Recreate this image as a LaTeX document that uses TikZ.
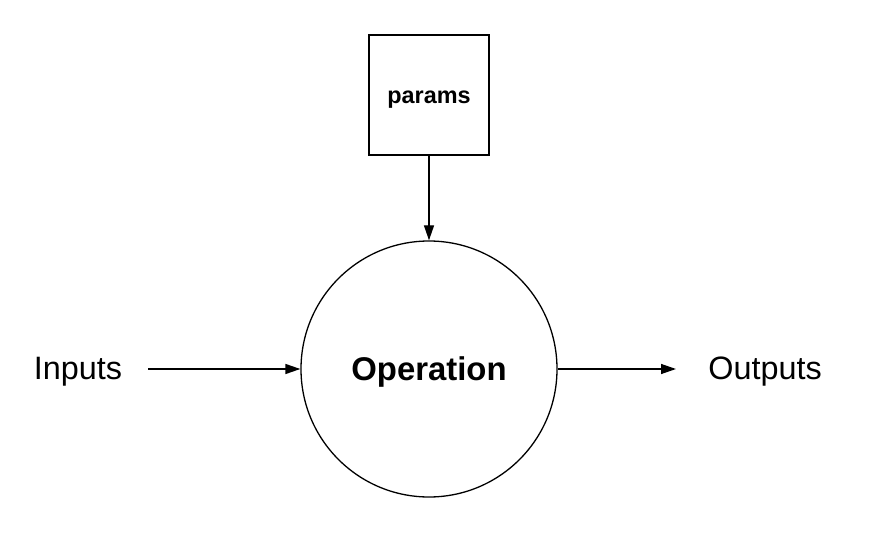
\documentclass[tikz,border=0pt]{standalone}
\usepackage{fontspec}
\setmainfont{Liberation Sans}
\usetikzlibrary{arrows.meta}
\begin{document}
\begin{tikzpicture}[x=1bp,y=-1bp,
  conn/.style={draw=black,line width=1.3bp,-{Triangle[length=15bp,width=10bp]}},
  lbl/.style={font=\fontsize{32.5}{38}\selectfont,inner sep=0},
]
\useasboundingbox (0,0) rectangle (880,552);
\node[draw,line width=1.3bp,minimum size=120bp,inner sep=0,text height=17bp,text depth=0.5bp,font=\bfseries\fontsize{23.5}{28}\selectfont] (params) at (429,95) {params};
\node[draw,circle,line width=1.3bp,minimum size=256bp,inner sep=0,text height=24bp,text depth=0.6bp,font=\bfseries\fontsize{33}{40}\selectfont] (op) at (429,369) {Operation};
\node[lbl] (in) at (78,372) {Inputs};
\node[lbl] (out) at (765,372) {Outputs};
\coordinate (inend) at (148,369);
\coordinate (outend) at (676,369);
\draw[conn] (params.south) -- (op.north);
\draw[conn] (inend) -- (op.west);
\draw[conn] (op.east) -- (outend);
\end{tikzpicture}
\end{document}
